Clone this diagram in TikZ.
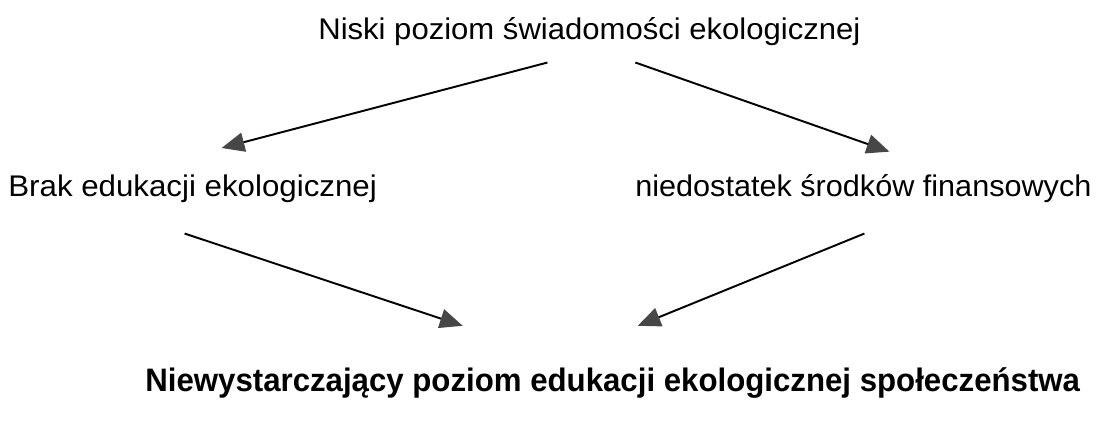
\documentclass[tikz,border=0pt]{standalone}
\usepackage{fontspec}
\setmainfont{Liberation Sans}
\usetikzlibrary{arrows.meta,calc}
\tikzset{
  lbl/.style={inner sep=0pt, anchor=base west, font=\fontsize{17}{20}\selectfont},
  blbl/.style={inner sep=0pt, anchor=base west, font=\fontsize{18.5}{22}\selectfont\bfseries},
  arr/.style={line width=1.1pt, black, -{Triangle[length=13pt,width=11pt,color=black!72]}}
}
\begin{document}
\begin{tikzpicture}[x=0.02cm,y=-0.02cm]
\useasboundingbox[fill=white] (0,0) rectangle (1104,425);
\node[lbl] (top) at (318,40) {\scalebox{1.04}[1]{Niski poziom świadomości ekologicznej}};
\node[lbl] (left) at (8,197) {\scalebox{1.047}[1]{Brak edukacji ekologicznej}};
\node[lbl] (right) at (635,197) {\scalebox{1.025}[1]{niedostatek środków finansowych}};
\node[blbl] (bottom) at (145,391) {\scalebox{0.96}[1]{Niewystarczający poziom edukacji ekologicznej społeczeństwa}};
\draw[arr] ($(top.south)+(-42,16)$) -- ($(left.north)+(29,-27)$);
\draw[arr] ($(top.south)+(46,16)$) -- ($(right.north)+(26,-23)$);
\draw[arr] ($(left.south)+(-8,30)$) -- ($(bottom.north)+(-150,-41)$);
\draw[arr] ($(right.south)+(1,30)$) -- ($(bottom.north)+(25,-41)$);
\end{tikzpicture}
\end{document}
